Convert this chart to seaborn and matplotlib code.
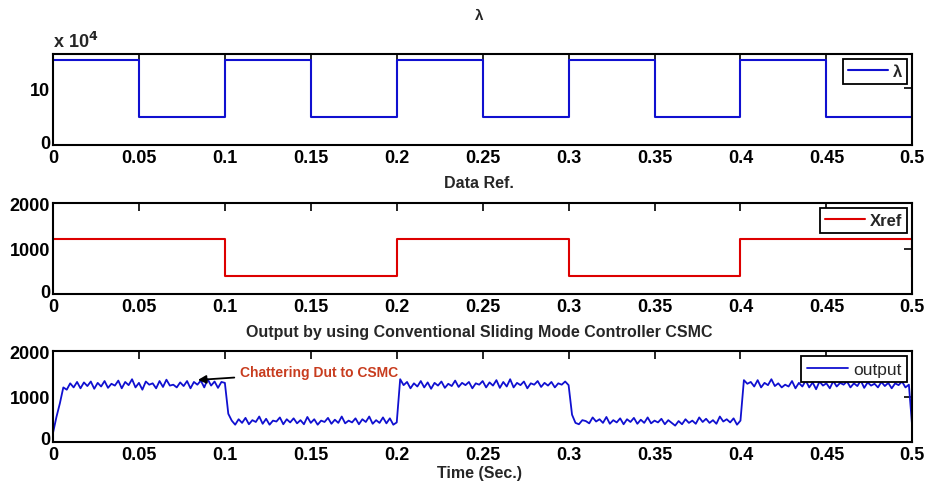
import numpy as np
import pandas as pd
import matplotlib
matplotlib.use("Agg")
import matplotlib.pyplot as plt
import matplotlib.transforms as mtransforms
import seaborn as sns

# ---------------- data ----------------
lam_time = [0, 0.05, 0.1, 0.15, 0.2, 0.25, 0.3, 0.35, 0.4, 0.45, 0.5]
lam_vals = [15, 5, 15, 5, 15, 5, 15, 5, 15, 5, 10]          # x 10^4

xref_time = [0, 0.1, 0.2, 0.3, 0.4, 0.5]
xref_vals = [1200, 400, 1200, 400, 1200, 600]

out_step = 0.002
out_vals = [
    200, 550, 850, 1200, 1150, 1290, 1200, 1320, 1180, 1310,
    1230, 1330, 1170, 1300, 1220, 1340, 1190, 1280, 1240, 1350,
    1180, 1320, 1250, 1380, 1200, 1300, 1150, 1330, 1260, 1290,
    1180, 1340, 1210, 1370, 1240, 1260, 1200, 1310, 1230, 1340,
    1180, 1320, 1260, 1350, 1200, 1380, 1240, 1330, 1190, 1320,
    1300,
    620, 470, 380, 500, 420, 530, 390, 480, 440,
    560, 400, 510, 380, 470, 450, 540, 390, 500, 430,
    520, 410, 480, 390, 550, 420, 500, 380, 470, 440,
    530, 400, 490, 420, 560, 410, 470, 430, 520, 390,
    500, 440, 560, 400, 480, 420, 540, 410, 520, 380,
    430,
    1380, 1250, 1320, 1180, 1290, 1220, 1340, 1200, 1310,
    1170, 1300, 1240, 1330, 1190, 1280, 1230, 1350, 1210, 1300,
    1250, 1320, 1180, 1290, 1260, 1340, 1200, 1310, 1240, 1360,
    1190, 1320, 1220, 1380, 1200, 1300, 1250, 1330, 1180, 1290,
    1260, 1340, 1210, 1300, 1240, 1320, 1200, 1290, 1260, 1330,
    1250,
    600, 420, 390, 480, 460, 410, 540, 450, 500,
    420, 550, 400, 480, 430, 520, 390, 500, 440, 530,
    400, 490, 420, 540, 410, 470, 430, 510, 390, 480,
    420, 360, 460, 390, 500, 420, 470, 400, 540, 440,
    510, 420, 480, 400, 560, 450, 500, 430, 520, 380,
    470,
    1360, 1280, 1320, 1220, 1360, 1200, 1300, 1250, 1380,
    1230, 1290, 1200, 1260, 1220, 1340, 1180, 1300, 1220, 1350,
    1200, 1310, 1160, 1330, 1240, 1290, 1180, 1340, 1220, 1300,
    1260, 1330, 1200, 1290, 1230, 1350, 1190, 1310, 1240, 1280,
    1200, 1320, 1230, 1300, 1180, 1290, 1250, 1330, 1200, 1260,
    300,
]

xticks = [0, 0.05, 0.1, 0.15, 0.2, 0.25, 0.3, 0.35, 0.4, 0.45, 0.5]
xtick_labels = ["0", "0.05", "0.1", "0.15", "0.2", "0.25", "0.3", "0.35", "0.4", "0.45", "0.5"]

titles = ["\u03bb", "Data Ref.", "Output by using Conventional Sliding Mode Controller CSMC"]
annot_text = "Chattering Dut to CSMC"

# ---------------- style ----------------
sns.set_theme(style="white")
plt.rcParams["font.family"] = ["Liberation Sans", "DejaVu Sans"]
plt.rcParams["font.weight"] = "bold"

fig = plt.figure(figsize=(9.25, 4.89), dpi=100)
L, W, H = 0.0573, 0.929, 0.186
ax1 = fig.add_axes([L, 0.7014, W, H])
ax2 = fig.add_axes([L, 0.3967, W, H])
ax3 = fig.add_axes([L, 0.0941, W, H])

df_lam = pd.DataFrame({"t": lam_time, "v": lam_vals})
df_ref = pd.DataFrame({"t": xref_time, "v": xref_vals})
t_out = np.round(np.arange(len(out_vals)) * out_step, 4)
df_out = pd.DataFrame({"t": t_out, "v": out_vals})

sns.lineplot(data=df_lam, x="t", y="v", ax=ax1, color="#1010d0", lw=1.5,
             drawstyle="steps-post", estimator=None, sort=False, label="\u03bb")
sns.lineplot(data=df_ref, x="t", y="v", ax=ax2, color="#dd0000", lw=1.5,
             drawstyle="steps-post", estimator=None, sort=False, label="Xref")
sns.lineplot(data=df_out, x="t", y="v", ax=ax3, color="#1010d0", lw=1.3,
             estimator=None, sort=False, label="output")

ax1.set_ylim(0, 16)
ax1.set_yticks([0, 10])
ax2.set_ylim(0, 2000)
ax2.set_yticks([0, 1000, 2000])
ax3.set_ylim(0, 2000)
ax3.set_yticks([0, 1000, 2000])

shift_up = mtransforms.ScaledTranslation(0, 4 / 100, fig.dpi_scale_trans)
for ax in (ax1, ax2, ax3):
    ax.set_xlim(0, 0.5)
    ax.set_xticks(xticks)
    ax.set_xticklabels(xtick_labels)
    ax.set_xlabel("")
    ax.set_ylabel("")
    ax.tick_params(direction="in", top=True, right=True, length=6, width=1.2,
                   labelsize=13, colors="black")
    ax.tick_params(axis="x", pad=3)
    ax.tick_params(axis="y", pad=2)
    for lbl in ax.get_xticklabels() + ax.get_yticklabels():
        lbl.set_fontweight("bold")
    ylab0 = ax.get_yticklabels()[0]
    ylab0.set_transform(ylab0.get_transform() + shift_up)
    for sp in ax.spines.values():
        sp.set_color("black")
        sp.set_linewidth(1.5)

ax1.text(0.0, 1.03, r"x 10$^{\mathbf{4}}$", transform=ax1.transAxes,
         fontsize=13, fontweight="bold", ha="left", va="bottom")

fig.text(0.518, 0.968, titles[0], ha="center", va="center", fontsize=11, fontweight="bold")
fig.text(0.518, 0.624, titles[1], ha="center", va="center", fontsize=11.5, fontweight="bold")
fig.text(0.518, 0.321, titles[2], ha="center", va="center", fontsize=11.5, fontweight="bold")
fig.text(0.518, 0.031, "Time (Sec.)", ha="center", va="center", fontsize=11.5, fontweight="bold")

leg_kw = dict(loc="upper right", frameon=True, fancybox=False, edgecolor="black",
              framealpha=1, handlelength=2.4, borderpad=0.3, borderaxespad=0.3,
              handletextpad=0.3)
lg1 = ax1.legend(prop={"size": 12, "weight": "bold"}, **leg_kw)
lg2 = ax2.legend(prop={"size": 12, "weight": "bold"}, **leg_kw)
lg3 = ax3.legend(prop={"size": 12.5, "weight": "normal"}, **leg_kw)
for lg in (lg1, lg2, lg3):
    lg.get_frame().set_linewidth(1.3)

ax3.annotate(annot_text, xy=(0.0827, 1360), xytext=(0.109, 1540),
             color="#c83c1e", fontsize=10, fontweight="bold", ha="left", va="center",
             arrowprops=dict(arrowstyle="-|>", color="black", lw=1.3, mutation_scale=12))

fig.savefig("out.png", dpi=100)
